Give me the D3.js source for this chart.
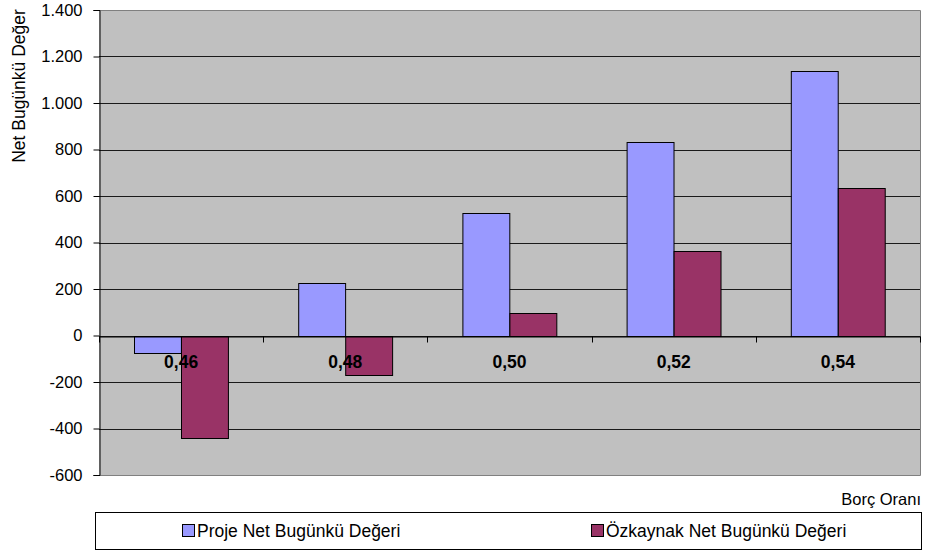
<!DOCTYPE html>
<html>
<head>
<meta charset="utf-8">
<script src="https://cdn.jsdelivr.net/npm/d3@7"></script>
<style>
  html, body { margin: 0; padding: 0; background: #ffffff; }
  svg { display: block; font-family: Arial, "Liberation Sans", sans-serif; }
</style>
</head>
<body>
<svg id="chart" width="927" height="553"></svg>
<script>
// Borç oranına göre net bugünkü değerler
const categories = ["0,46", "0,48", "0,50", "0,52", "0,54"];
const seriesNames = ["Proje Net Bugünkü Değeri", "Özkaynak Net Bugünkü Değeri"];
const projeValues = [-75, 226, 528, 832, 1137];
const ozkaynakValues = [-441, -171, 95, 363, 633];
const yTicks = [-600, -400, -200, 0, 200, 400, 600, 800, 1000, 1200, 1400];
const seriesColors = ["#9999FF", "#993366"];

const svg = d3.select("#chart");
const plot = { left: 99, right: 920, top: 10, bottom: 475 };

const x0 = d3.scaleBand().domain(categories).range([plot.left, plot.right]).padding(0);
const x1 = d3.scaleBand().domain(seriesNames).range([0, x0.bandwidth()])
  .paddingInner(0).paddingOuter(0.75);
const y = d3.scaleLinear().domain([-600, 1400]).range([plot.bottom, plot.top]);

// Turkish style thousands separator, plain hyphen for negatives
const fmt = v => (v < 0 ? "-" : "") + d3.format(",")(Math.abs(v)).replace(/,/g, ".");

// plot background
svg.append("rect")
  .attr("x", plot.left).attr("y", plot.top)
  .attr("width", plot.right - plot.left).attr("height", plot.bottom - plot.top)
  .attr("fill", "#C0C0C0");

// gridlines
svg.append("g").selectAll("line")
  .data(yTicks.filter(t => t !== -600 && t !== 1400))
  .join("line")
  .attr("x1", plot.left).attr("x2", plot.right)
  .attr("y1", d => Math.round(y(d)) + 0.5).attr("y2", d => Math.round(y(d)) + 0.5)
  .attr("stroke", "#1a1a1a").attr("stroke-width", 1);

// plot border (top, right, bottom)
svg.append("path")
  .attr("d", `M${plot.left},${plot.top + 0.5}H${plot.right + 0.5}V${plot.bottom + 0.5}H${plot.left}`)
  .attr("fill", "none").attr("stroke", "#808080").attr("stroke-width", 1);

// bars
const data = categories.map((c, i) => ({
  cat: c,
  vals: [
    { name: seriesNames[0], v: projeValues[i], color: seriesColors[0] },
    { name: seriesNames[1], v: ozkaynakValues[i], color: seriesColors[1] }
  ]
}));

const groups = svg.append("g").selectAll("g")
  .data(data).join("g")
  .attr("transform", d => `translate(${x0(d.cat)},0)`);

groups.selectAll("rect")
  .data(d => d.vals).join("rect")
  .attr("x", d => Math.round(x1(d.name)) + 0.5)
  .attr("width", x1.bandwidth())
  .attr("y", d => Math.round(y(Math.max(0, d.v))) + 0.5)
  .attr("height", d => Math.abs(Math.round(y(d.v)) - Math.round(y(0))))
  .attr("fill", d => d.color)
  .attr("stroke", "#000").attr("stroke-width", 1);

// y axis
const yAxis = d3.axisLeft(y).tickValues(yTicks).tickFormat(fmt).tickSize(6).tickPadding(11);
const gy = svg.append("g")
  .attr("transform", `translate(${plot.left + 0.5},0)`)
  .call(yAxis);
gy.select(".domain").attr("stroke", "#000");
gy.selectAll(".tick line").attr("stroke", "#000");
gy.selectAll(".tick text")
  .attr("font-size", "16.5px").attr("fill", "#000")
  .attr("font-family", "Arial, 'Liberation Sans', sans-serif");

// category axis along the zero line
const xAxis = d3.axisBottom(x0).tickSize(0).tickPadding(19);
const gx = svg.append("g")
  .attr("transform", `translate(0,${Math.round(y(0)) + 0.5})`)
  .call(xAxis);
gx.select(".domain").attr("stroke", "#000");
gx.selectAll(".tick text")
  .attr("font-size", "17.5px").attr("font-weight", "bold").attr("fill", "#000")
  .attr("font-family", "Arial, 'Liberation Sans', sans-serif");

// category boundary tick marks
gx.append("g").selectAll("line")
  .data(d3.range(categories.length + 1))
  .join("line")
  .attr("x1", i => Math.round(plot.left + i * x0.step()) + 0.5)
  .attr("x2", i => Math.round(plot.left + i * x0.step()) + 0.5)
  .attr("y1", 0).attr("y2", 6)
  .attr("stroke", "#000");

// axis titles
svg.append("text")
  .attr("transform", "translate(25,86) rotate(-90)")
  .attr("text-anchor", "middle")
  .attr("font-size", "17.5px")
  .attr("fill", "#000")
  .text("Net Bugünkü Değer");

svg.append("text")
  .attr("x", 921).attr("y", 505)
  .attr("text-anchor", "end")
  .attr("font-size", "16.5px")
  .attr("fill", "#000")
  .text("Borç Oranı");

// legend
const legend = svg.append("g");
legend.append("rect")
  .attr("x", 95.5).attr("y", 512.5).attr("width", 826).attr("height", 37)
  .attr("fill", "#fff").attr("stroke", "#000").attr("stroke-width", 1);

const legendX = [182, 591];
const items = legend.selectAll("g.item")
  .data(seriesNames).join("g")
  .attr("class", "item")
  .attr("transform", (d, i) => `translate(${legendX[i]},0)`);
items.append("rect")
  .attr("x", 0.5).attr("y", 524.5).attr("width", 12).attr("height", 12)
  .attr("fill", (d, i) => seriesColors[i]).attr("stroke", "#000");
items.append("text")
  .attr("x", 15).attr("y", 537)
  .attr("font-size", "17.5px")
  .attr("fill", "#000")
  .text(d => d);
</script>
</body>
</html>
